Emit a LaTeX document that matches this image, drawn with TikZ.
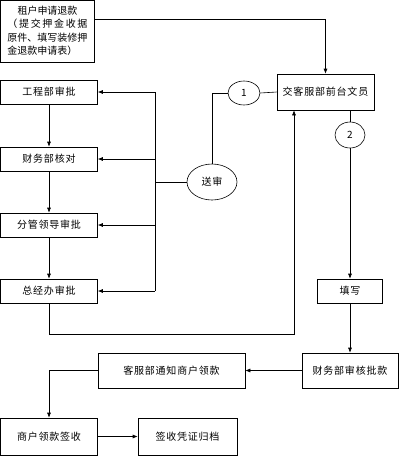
\documentclass[tikz,border=0pt]{standalone}
\usepackage{fontspec}
\setmainfont{Noto Sans CJK SC}[LetterSpace=8]
\newfontfamily\plainf{Noto Sans CJK SC}
\usetikzlibrary{shapes.geometric,arrows.meta}
\begin{document}
\begin{tikzpicture}[x=1pt,y=-1pt,line width=0.6pt,
  font=\fontsize{10}{14}\selectfont,
  arr/.style={-{Latex[length=5pt,width=4pt]}},
  box/.style={draw,rectangle,inner sep=1pt,minimum width=97pt,minimum height=24pt},
  oval/.style={draw,ellipse,inner sep=0pt}]
\useasboundingbox (0,0) rectangle (400,456);
\fill[white] (0,0) rectangle (400,456);
% nodes
\node[draw,rectangle,minimum width=94pt,minimum height=62pt,inner sep=1pt,align=left,font=\plainf\fontsize{10}{13.5}\selectfont] (A) at (47.5,31)
  {\makebox[80pt][c]{租户申请退款}\\\makebox[80pt][s]{（\hfill 提\hfill 交\hfill 押\hfill 金\hfill 收\hfill 据}\\原件、填写装修押\\金退款申请表）};
\node[box,minimum width=97pt,minimum height=36pt] (B) at (325.5,92) {交客服部前台文员};
\node[oval,minimum width=32pt,minimum height=24pt,font=\plainf\fontsize{10}{12}\selectfont] (e1) at (244,93) {1};
\node[oval,minimum width=30pt,minimum height=26pt,font=\plainf\fontsize{10}{12}\selectfont] (e2) at (350,135) {2};
\node[oval,minimum width=50pt,minimum height=36pt] (ss) at (212,182) {送审};
\node[box] (g1) at (49,92) {工程部审批};
\node[box] (g2) at (49,159) {财务部核对};
\node[box] (g3) at (49,225) {分管领导审批};
\node[box] (g4) at (49,291) {总经办审批};
\node[box,minimum width=65pt] (tx) at (350,291) {填写};
\node[box,minimum width=96pt,minimum height=35pt] (cw) at (350,370.5) {财务部审核批款};
\node[box,minimum width=147pt,minimum height=35pt] (kf) at (171.5,370.5) {客服部通知商户领款};
\node[box,minimum width=97pt,minimum height=37pt] (sh) at (49,436.5) {商户领款签收};
\node[box,minimum width=99pt,minimum height=37pt] (gd) at (187.5,436.5) {签收凭证归档};
% helper coordinates
\coordinate (r1) at (0,19);
\coordinate (bus) at (155,0);
\coordinate (ret) at (294,334);
% connectors
\draw[arr] (A.east |- r1) -| (B.north);
\draw (B.west) -- (e1.east);
\draw (e1.west) -| (ss.north);
\draw (B.south -| e2) -- (e2.north);
\draw[arr] (e2.south) -- (tx.north);
\draw[arr] (tx.south) -- (cw.north);
\draw[arr] (cw.west) -- (kf.east);
\draw[arr] (kf.west) -| (sh.north);
\draw[arr] (sh.east) -- (gd.west);
\draw[arr] (g1.south) -- (g2.north);
\draw[arr] (g2.south) -- (g3.north);
\draw[arr] (g3.south) -- (g4.north);
\draw (g1.east -| bus) -- (g4.east -| bus);
\draw (ss.west) -- (ss.west -| bus);
\draw[arr] (g1.east -| bus) -- (g1.east);
\draw[arr] (g2.east -| bus) -- (g2.east);
\draw[arr] (g3.east -| bus) -- (g3.east);
\draw[arr] (g4.east -| bus) -- (g4.east);
\draw[arr] (g4.south) |- (ret) -- (B.south -| ret);
\end{tikzpicture}
\end{document}
